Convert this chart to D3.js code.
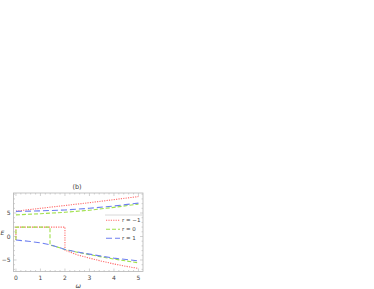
<!DOCTYPE html>
<html>
<head>
<meta charset="utf-8">
<script src="https://cdn.jsdelivr.net/npm/d3@7"></script>
<style>
  body { margin: 0; background: #fff; }
  text { font-family: "DejaVu Sans", sans-serif; fill: #444; }
</style>
</head>
<body>
<div id="chart"></div>
<script>
// data
var xTicks = [0, 1, 2, 3, 4, 5];
var yTicks = [-5, 0, 5];
var seriesNames = ["r = \u22121", "r = 0", "r = 1"];

// upper branches, sampled at omega = 0..5
var upperX = [0, 1, 2, 3, 4, 5];
var redUpper = [5.4, 6.0, 6.6, 7.2, 7.85, 8.5];
var greenUpper = [4.6, 4.85, 5.15, 5.6, 6.2, 6.9];
var blueUpper = [5.35, 5.45, 5.65, 6.0, 6.5, 7.1];

// lower branches (with the jumps drawn as vertical pieces)
var redLowerX = [0, 0, 2, 2, 2.5, 3, 3.5, 4, 4.5, 5];
var redLower = [-0.75, 2, 2, -2.9, -3.9, -4.6, -5.25, -5.85, -6.35, -6.8];
var greenLowerX = [0, 0, 1.39, 1.39, 1.5, 2, 2.5, 3, 3.5, 4, 4.5, 5];
var greenLower = [-0.75, 2, 2, -1.85, -1.95, -2.75, -3.35, -3.85, -4.35, -4.8, -5.2, -5.6];
var blueLowerX = [0, 0.5, 1, 1.5, 2, 2.5, 3, 3.5, 4, 4.5, 5];
var blueLower = [-0.75, -1.0, -1.35, -1.9, -2.75, -3.3, -3.75, -4.2, -4.6, -4.9, -5.2];

var svgWidth = 374, svgHeight = 289;
// plot frame edges in pixels
var frameBox = { left: 13.5, right: 143, top: 193, bottom: 271.5 };

var svg = d3.select("#chart").append("svg")
  .attr("width", svgWidth)
  .attr("height", svgHeight);

var xScale = d3.scaleLinear().domain([-0.1, 5.186]).range([frameBox.left, frameBox.right]);
var yScale = d3.scaleLinear().domain([-7.45, 9.26]).range([frameBox.bottom, frameBox.top]);

function zipPts(xs, ys) {
  return xs.map(function(x, i) { return [x, ys[i]]; });
}

var colors = ["#ff6a6a", "#9fe04a", "#6d7ff0"];
var dashes = ["1.2,1.2", "4,2", "6,3"];

var series = [
  [zipPts(upperX, redUpper), zipPts(redLowerX, redLower)],
  [zipPts(upperX, greenUpper), zipPts(greenLowerX, greenLower)],
  [zipPts(upperX, blueUpper), zipPts(blueLowerX, blueLower)]
];

var line = d3.line()
  .x(function(d) { return xScale(d[0]); })
  .y(function(d) { return yScale(d[1]); });

// frame with ticks on all four sides
var frame = svg.append("g");
frame.append("rect")
  .attr("x", frameBox.left).attr("y", frameBox.top)
  .attr("width", frameBox.right - frameBox.left).attr("height", frameBox.bottom - frameBox.top)
  .attr("fill", "none").attr("stroke", "#b5b5b5").attr("stroke-width", 0.8);

var xMinor = d3.range(0, 5.01, 0.2);
var yMinor = d3.range(-7, 9.01, 1);
xMinor.forEach(function(v) {
  var major = Math.abs(v - Math.round(v)) < 1e-6;
  var len = major ? 3 : 1.5;
  frame.append("line").attr("x1", xScale(v)).attr("x2", xScale(v))
    .attr("y1", frameBox.bottom).attr("y2", frameBox.bottom - len)
    .attr("stroke", "#b5b5b5").attr("stroke-width", 0.6);
  frame.append("line").attr("x1", xScale(v)).attr("x2", xScale(v))
    .attr("y1", frameBox.top).attr("y2", frameBox.top + len)
    .attr("stroke", "#b5b5b5").attr("stroke-width", 0.6);
});
yMinor.forEach(function(v) {
  var len = (v % 5 === 0) ? 3 : 1.5;
  frame.append("line").attr("y1", yScale(v)).attr("y2", yScale(v))
    .attr("x1", frameBox.left).attr("x2", frameBox.left + len)
    .attr("stroke", "#b5b5b5").attr("stroke-width", 0.6);
  frame.append("line").attr("y1", yScale(v)).attr("y2", yScale(v))
    .attr("x1", frameBox.right).attr("x2", frameBox.right - len)
    .attr("stroke", "#b5b5b5").attr("stroke-width", 0.6);
});

// tick labels
svg.selectAll(".xt").data(xTicks).enter().append("text")
  .attr("x", function(d) { return xScale(d); })
  .attr("y", frameBox.bottom + 8)
  .attr("text-anchor", "middle")
  .attr("font-size", 6)
  .text(function(d) { return d; });

svg.selectAll(".yt").data(yTicks).enter().append("text")
  .attr("x", frameBox.left - 3)
  .attr("y", function(d) { return yScale(d) + 2; })
  .attr("text-anchor", "end")
  .attr("font-size", 6)
  .text(function(d) { return d < 0 ? "\u2212" + Math.abs(d) : d; });

// curves
series.forEach(function(branches, i) {
  branches.forEach(function(pts) {
    svg.append("path")
      .datum(pts)
      .attr("d", line)
      .attr("fill", "none")
      .attr("stroke", colors[i])
      .attr("stroke-width", 1.1)
      .attr("stroke-dasharray", dashes[i]);
  });
});

// labels
svg.append("text").attr("x", 77).attr("y", 189)
  .attr("text-anchor", "middle").attr("font-size", 6.5).text("(b)");
svg.append("text").attr("x", (frameBox.left + frameBox.right) / 2).attr("y", 288)
  .attr("text-anchor", "middle").attr("font-size", 6.5).attr("font-style", "italic").text("\u03c9");
svg.append("text").attr("x", 0.5).attr("y", 234.5)
  .attr("font-size", 6).attr("font-style", "italic").text("E");

// legend
var legend = svg.append("g");
legend.append("line").attr("x1", 105).attr("x2", 142.5).attr("y1", 215).attr("y2", 215)
  .attr("stroke", "#d8d8d8").attr("stroke-width", 1);
seriesNames.forEach(function(name, i) {
  var ly = 220.3 + i * 9;
  legend.append("line").attr("x1", 106).attr("x2", 120).attr("y1", ly).attr("y2", ly)
    .attr("stroke", colors[i]).attr("stroke-width", 1.1).attr("stroke-dasharray", dashes[i]);
  legend.append("text").attr("x", 122).attr("y", ly + 2)
    .attr("font-size", 5.5).text(name);
});
</script>
</body>
</html>
